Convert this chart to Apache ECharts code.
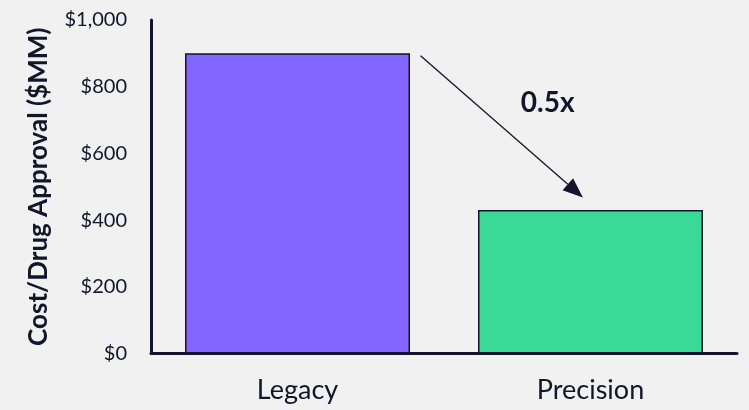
<!DOCTYPE html>
<html><head><meta charset="utf-8">
<script src="https://cdn.jsdelivr.net/npm/echarts@6/dist/echarts.min.js"></script>
<style>html,body{margin:0;padding:0;background:#f1f1f1}#c{width:749px;height:410px}</style>
</head><body><div id="c"></div>
<script>
const categories = ['Legacy', 'Precision'];
const costValues = [900, 430];
const yTicks = [0, 200, 400, 600, 800, 1000];
const arrowFrom = [0, 893];   // category index, value
const arrowTo = [1, 468];
const arrowLabel = '0.5x';

const ink = '#14142b';
const chart = echarts.init(document.getElementById('c'));
chart.setOption({
  backgroundColor: '#f1f1f1',
  animation: false,
  grid: {left: 151, right: 12, top: 20, bottom: 56.5},
  xAxis: {
    type: 'category', data: categories,
    axisLine: {lineStyle: {color: ink, width: 3}},
    axisTick: {show: false},
    axisLabel: {color: ink, fontFamily: 'Lato', fontSize: 27, margin: 23}
  },
  yAxis: {
    type: 'value', min: yTicks[0], max: yTicks[yTicks.length - 1], interval: 200,
    name: 'Cost/Drug Approval ($MM)', nameLocation: 'middle', nameGap: 99,
    nameTextStyle: {color: ink, fontFamily: 'Lato', fontWeight: 'bold', fontSize: 26},
    axisLine: {show: true, lineStyle: {color: ink, width: 3}},
    axisTick: {show: false},
    splitLine: {show: false},
    axisLabel: {color: ink, fontFamily: 'Lato', fontSize: 20, margin: 24,
      formatter: v => '$' + v.toLocaleString('en-US')}
  },
  series: [{
    type: 'bar', barWidth: 225,
    data: costValues.map((v, i) => ({value: v, itemStyle: {color: i === 0 ? '#8266ff' : '#3bd996'}})),
    itemStyle: {borderColor: ink, borderWidth: 1.5}
  }]
});

function px(p, offset) {
  const c = chart.convertToPixel({gridIndex: 0}, [p[0], p[1]]);
  return [c[0] + offset, c[1]];
}
const band = 293;
const a = px(arrowFrom, band * 0.42);
const b = px(arrowTo, -band * 0.026);
const ang = Math.atan2(b[1] - a[1], b[0] - a[0]);
const hl = 20, hw = 8;
const bx = b[0] - hl * Math.cos(ang), by = b[1] - hl * Math.sin(ang);
const nx = -Math.sin(ang), ny = Math.cos(ang);
chart.setOption({
  graphic: [
    {type: 'line', shape: {x1: a[0], y1: a[1], x2: bx, y2: by}, style: {stroke: ink, lineWidth: 1.3}},
    {type: 'polygon', shape: {points: [[b[0], b[1]], [bx + nx * hw, by + ny * hw], [bx - nx * hw, by - ny * hw]]}, style: {fill: ink}},
    {type: 'text', x: (a[0] + b[0]) / 2 + 46, y: (a[1] + b[1]) / 2 - 24, style: {text: arrowLabel, fill: ink, font: 'bold 28px Lato', textAlign: 'center', textVerticalAlign: 'middle'}}
  ]
});
</script></body></html>
